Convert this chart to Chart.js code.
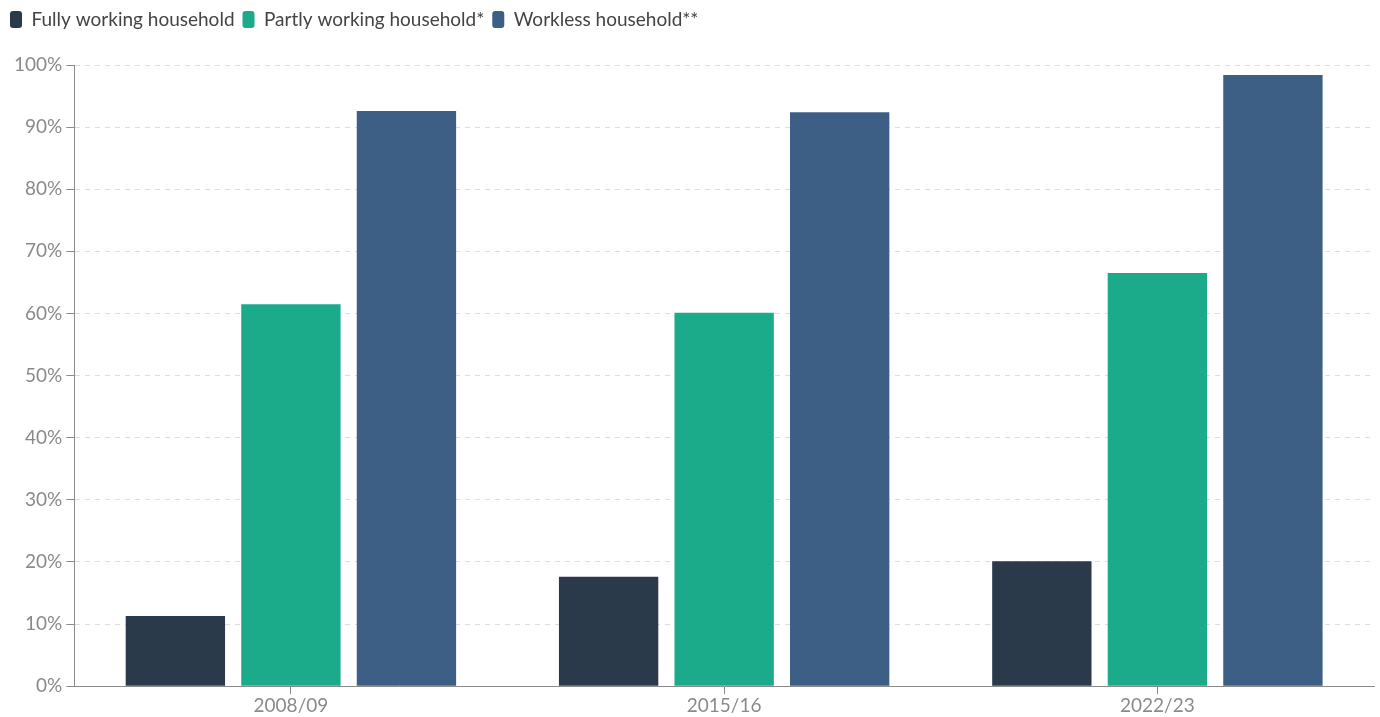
<!DOCTYPE html>
<html>
<head>
<meta charset="utf-8">
<script src="https://cdn.jsdelivr.net/npm/chart.js@4/dist/chart.umd.min.js"></script>
<style>
  html, body { margin: 0; padding: 0; background: #fff; }
  #wrap { width: 1380px; height: 717px; }
</style>
</head>
<body>
<div id="wrap"><canvas id="chart"></canvas></div>
<script>
// Data
const years = ['2008/09', '2015/16', '2022/23'];
const fullyWorking = [11.3, 17.6, 20.1];
const partlyWorking = [61.5, 60.1, 66.5];
const workless = [92.6, 92.4, 98.4];
const seriesNames = ['Fully working household', 'Partly working household*', 'Workless household**'];

const colours = ['#2b3a4b', '#1bab8b', '#3e5f85'];
const tickGrey = '#8a8a8a';

Chart.defaults.font.family = 'Lato, "Open Sans", sans-serif';

// push the plot down a bit below the legend
const legendGap = {
    id: 'legendGap',
    beforeInit(chart) {
        const origFit = chart.legend.fit;
        chart.legend.fit = function() {
            origFit.bind(chart.legend)();
            this.height += 26;
        };
    }
};

new Chart(document.getElementById('chart'), {
    type: 'bar',
    data: {
        labels: years,
        datasets: [fullyWorking, partlyWorking, workless].map((vals, i) => ({
            label: seriesNames[i],
            data: vals,
            backgroundColor: colours[i],
            borderWidth: 0,
            categoryPercentage: 0.8,
            barPercentage: 0.86
        }))
    },
    options: {
        responsive: true,
        maintainAspectRatio: false,
        animation: false,
        layout: { padding: { left: 2, right: 6, top: 2, bottom: 0 } },
        plugins: {
            legend: {
                align: 'start',
                labels: {
                    color: '#444',
                    font: { size: 19 },
                    boxWidth: 12,
                    boxHeight: 17,
                    useBorderRadius: true,
                    borderRadius: 3,
                    padding: 8
                }
            },
            tooltip: { enabled: false }
        },
        scales: {
            x: {
                grid: {
                    offset: false,
                    drawOnChartArea: false,
                    drawTicks: true,
                    tickLength: 8,
                    color: tickGrey
                },
                border: { color: tickGrey, width: 1 },
                ticks: { color: tickGrey, font: { size: 19 }, padding: 0 }
            },
            y: {
                min: 0,
                max: 100,
                afterFit: axis => { axis.width += 8; },
                ticks: {
                    stepSize: 10,
                    color: tickGrey,
                    font: { size: 19 },
                    padding: 4,
                    callback: v => v + '%'
                },
                grid: {
                    color: '#dcdcdc',
                    tickColor: tickGrey,
                    tickLength: 8,
                    tickBorderDash: []
                },
                border: { color: tickGrey, width: 1, dash: [5, 5] }
            }
        }
    },
    plugins: [legendGap]
});
</script>
</body>
</html>
